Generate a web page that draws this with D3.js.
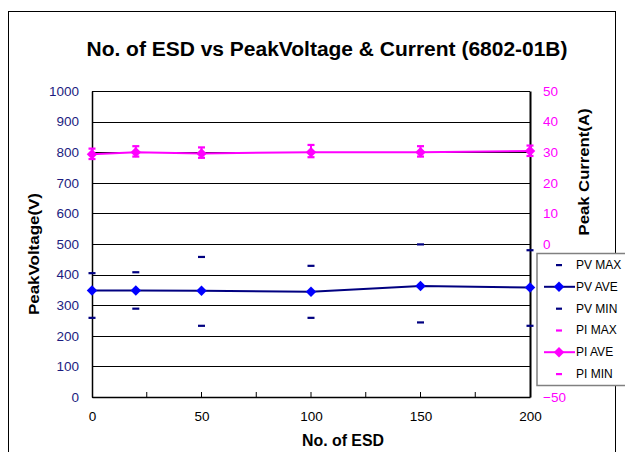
<!DOCTYPE html>
<html>
<head>
<meta charset="utf-8">
<script src="https://cdn.jsdelivr.net/npm/d3@7"></script>
<style>
  body { margin: 0; background: #fff; }
  svg { display: block; font-family: "Liberation Sans", Arial, sans-serif; }
</style>
</head>
<body>
<svg id="chart" width="625" height="452"></svg>
<script>
"use strict";

// data
const esdCounts = [0, 20, 50, 100, 150, 200];
const pvMax = [405, 408, 458, 429, 499, 480];
const pvAve = [348, 348, 347, 344, 363, 358];
const pvMin = [259, 289, 233, 259, 244, 233];
const piMax = [31.2, 32.0, 31.6, 32.4, 32.0, 32.2];
const piAve = [29.3, 30.0, 29.6, 30.0, 30.0, 30.4];
const piMin = [27.8, 28.6, 28.2, 28.4, 28.6, 28.8];

const xTicks = [0, 50, 100, 150, 200];
const xMinorTicks = [25, 75, 125, 175];
const pvTicks = [0, 100, 200, 300, 400, 500, 600, 700, 800, 900, 1000];
const piTicks = [50, 40, 30, 20, 10, 0, -10, -20, -30, -40, -50];
const legendItems = ["PV MAX", "PV AVE", "PV MIN", "PI MAX", "PI AVE", "PI MIN"];

const NAVY = "#000080";
const BLUE = "#0000ff";
const MAGENTA = "#ff00ff";
const TICK_BLUE = "#1c1c80";

const plotLeft = 92, plotRight = 530, plotTop = 91, plotBottom = 397;

const x = d3.scaleLinear().domain([0, 200]).range([plotLeft, plotRight]);
const yV = d3.scaleLinear().domain([0, 1000]).range([plotBottom, plotTop]);
const yI = d3.scaleLinear().domain([-50, 50]).range([plotBottom, plotTop]);

const svg = d3.select("#chart");

// outer chart frame
svg.append("rect")
    .attr("x", 8.5).attr("y", 11.5)
    .attr("width", 607).attr("height", 460)
    .attr("fill", "none").attr("stroke", "#000").attr("stroke-width", 1);

// title
svg.append("text")
    .attr("x", 327).attr("y", 56)
    .attr("text-anchor", "middle")
    .attr("font-weight", "bold").attr("font-size", 20)
    .attr("textLength", 481).attr("lengthAdjust", "spacingAndGlyphs")
    .text("No. of ESD vs PeakVoltage & Current (6802-01B)");

// gridlines
svg.append("g").selectAll("line")
    .data(pvTicks)
    .join("line")
    .attr("x1", plotLeft).attr("x2", plotRight)
    .attr("y1", d => Math.round(yV(d)) + 0.5)
    .attr("y2", d => Math.round(yV(d)) + 0.5)
    .attr("stroke", "#000").attr("stroke-width", 1);

// left axis (voltage)
const axL = svg.append("g")
    .attr("transform", `translate(${plotLeft},0)`)
    .call(d3.axisLeft(yV).tickValues(pvTicks).tickSize(0).tickPadding(13)
        .tickFormat(d3.format("d")));
axL.select(".domain").attr("stroke", "#000").attr("stroke-width", 1.5);
axL.selectAll("text").attr("fill", TICK_BLUE).attr("font-size", 13.5)
    .attr("font-family", "Liberation Sans, Arial, sans-serif");

// bottom axis
const axB = svg.append("g")
    .attr("transform", `translate(0,${plotBottom})`)
    .call(d3.axisBottom(x).tickValues(xTicks).tickSize(0).tickPadding(14));
axB.select(".domain").attr("stroke", "#000").attr("stroke-width", 1.5);
axB.selectAll("text").attr("fill", "#000").attr("font-size", 13.5)
    .attr("font-family", "Liberation Sans, Arial, sans-serif");

svg.append("g").selectAll("line")
    .data(xTicks.concat(xMinorTicks).filter(d => d > 0 && d < 200))
    .join("line")
    .attr("x1", d => x(d)).attr("x2", d => x(d))
    .attr("y1", plotBottom).attr("y2", plotBottom - 5)
    .attr("stroke", "#000").attr("stroke-width", 1);

// right axis (current)
const axR = svg.append("g")
    .attr("transform", `translate(${plotRight},0)`)
    .call(d3.axisRight(yI).tickValues(piTicks).tickSize(0).tickPadding(13)
        .tickFormat(d => d < 0 ? "\u2212" + Math.abs(d) : d));
axR.select(".domain").attr("stroke", "#000").attr("stroke-width", 2);
axR.selectAll("text").attr("fill", MAGENTA).attr("font-size", 13.5)
    .attr("font-family", "Liberation Sans, Arial, sans-serif");

// axis titles
svg.append("text")
    .attr("transform", `translate(39,254) rotate(-90)`)
    .attr("text-anchor", "middle")
    .attr("font-weight", "bold").attr("font-size", 15)
    .attr("textLength", 122).attr("lengthAdjust", "spacingAndGlyphs")
    .text("PeakVoltage(V)");
svg.append("text")
    .attr("transform", `translate(589,172) rotate(-90)`)
    .attr("text-anchor", "middle")
    .attr("font-weight", "bold").attr("font-size", 15)
    .attr("textLength", 127).attr("lengthAdjust", "spacingAndGlyphs")
    .text("Peak Current(A)");
svg.append("text")
    .attr("x", 343).attr("y", 446)
    .attr("text-anchor", "middle")
    .attr("font-weight", "bold").attr("font-size", 16)
    .attr("textLength", 82).attr("lengthAdjust", "spacingAndGlyphs")
    .text("No. of ESD");

const diamond = d3.symbol().type(d3.symbolDiamond2).size(70);

function dashes(vals, yScale, color) {
    svg.append("g").selectAll("rect")
        .data(vals)
        .join("rect")
        .attr("x", (d, i) => x(esdCounts[i]) - 3.5)
        .attr("y", d => yScale(d) - 1)
        .attr("width", 7).attr("height", 2.2)
        .attr("fill", color);
}

// PV series
const pvLine = d3.line().x((d, i) => x(esdCounts[i])).y(d => yV(d));
svg.append("path").datum(pvAve)
    .attr("d", pvLine).attr("fill", "none")
    .attr("stroke", NAVY).attr("stroke-width", 2);
dashes(pvMax, yV, NAVY);
dashes(pvMin, yV, NAVY);
svg.append("g").selectAll("path")
    .data(pvAve)
    .join("path")
    .attr("transform", (d, i) => `translate(${x(esdCounts[i])},${yV(d)})`)
    .attr("d", diamond).attr("fill", BLUE);

// PI series
svg.append("g").selectAll("line")
    .data(piAve)
    .join("line")
    .attr("x1", (d, i) => x(esdCounts[i])).attr("x2", (d, i) => x(esdCounts[i]))
    .attr("y1", (d, i) => yI(piMax[i])).attr("y2", (d, i) => yI(piMin[i]))
    .attr("stroke", MAGENTA).attr("stroke-width", 2);
const piLine = d3.line().x((d, i) => x(esdCounts[i])).y(d => yI(d));
svg.append("path").datum(piAve)
    .attr("d", piLine).attr("fill", "none")
    .attr("stroke", MAGENTA).attr("stroke-width", 2);
dashes(piMax, yI, MAGENTA);
dashes(piMin, yI, MAGENTA);
svg.append("g").selectAll("path")
    .data(piAve)
    .join("path")
    .attr("transform", (d, i) => `translate(${x(esdCounts[i])},${yI(d)})`)
    .attr("d", diamond).attr("fill", MAGENTA);

// legend
const lg = svg.append("g");
lg.append("rect")
    .attr("x", 537).attr("y", 253.5)
    .attr("width", 100).attr("height", 132)
    .attr("fill", "#fff").attr("stroke", "#808080").attr("stroke-width", 1.5);

const legendStyle = [
    { color: NAVY, kind: "dash" },
    { color: NAVY, kind: "line", mark: BLUE },
    { color: NAVY, kind: "dash" },
    { color: MAGENTA, kind: "dash" },
    { color: MAGENTA, kind: "line", mark: MAGENTA },
    { color: MAGENTA, kind: "dash" }
];
const rowY = d3.scalePoint().domain(legendItems).range([265, 374]);

legendItems.forEach(function(name, i) {
    const y = rowY(name);
    const st = legendStyle[i];
    if (st.kind == "dash") {
        lg.append("rect").attr("x", 556).attr("y", y - 1)
            .attr("width", 6).attr("height", 2.2).attr("fill", st.color);
    } else {
        lg.append("line").attr("x1", 544).attr("x2", 575)
            .attr("y1", y).attr("y2", y)
            .attr("stroke", st.color).attr("stroke-width", 2);
        lg.append("path").attr("transform", `translate(559,${y})`)
            .attr("d", diamond).attr("fill", st.mark);
    }
    lg.append("text")
        .attr("x", 576).attr("y", y + 4)
        .attr("font-size", 12).attr("fill", "#000")
        .text(name);
});
</script>
</body>
</html>
